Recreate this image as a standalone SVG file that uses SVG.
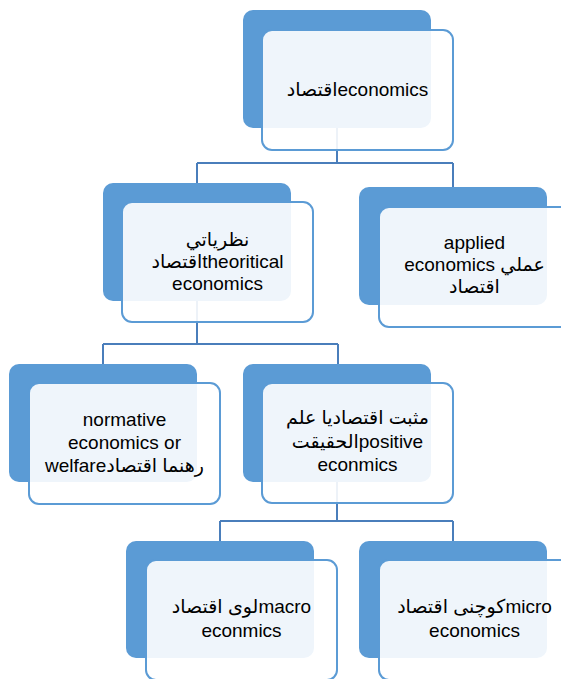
<svg xmlns="http://www.w3.org/2000/svg" width="561" height="679" viewBox="0 0 561 679">
<style>
.back{fill:#5b9bd5}
.front{fill:#ffffff;fill-opacity:0.9;stroke:#5b9bd5;stroke-width:2}
.conn{fill:none;stroke:#4a7ebb;stroke-width:2}
text{font-family:"Liberation Sans","DejaVu Sans","Noto Sans",sans-serif;font-size:19px;fill:#000;text-anchor:middle}
</style>
<rect width="561" height="679" fill="#ffffff"/>
<g id="connectors">
<path class="conn" d="M337,128 V163 M197,163 H453 M197,163 V183 M453,163 V187"/>
<path class="conn" d="M197,300 V344 M103,344 H338 M103,344 V364 M338,344 V364"/>
<path class="conn" d="M337,482 V521 M220,521 H453 M220,521 V541 M453,521 V541"/>
</g>
<g id="node-economics">
<rect class="back" x="243" y="10" width="188" height="118" rx="10"/>
<rect class="front" x="262" y="30" width="191" height="120" rx="10"/>
<text x="357.5" y="96">اقتصادeconomics</text>
</g>
<g id="node-theoretical">
<rect class="back" x="103" y="183" width="188" height="118" rx="10"/>
<rect class="front" x="122" y="202" width="191" height="120" rx="10"/>
<text x="217.5" y="246">نظرياتي</text>
<text x="217.5" y="268">اقتصادtheoritical</text>
<text x="217.5" y="290">economics</text>
</g>
<g id="node-applied">
<rect class="back" x="359" y="187" width="188" height="118" rx="10"/>
<rect class="front" x="379" y="207" width="191" height="120" rx="10"/>
<text x="474.5" y="249">applied</text>
<text x="474.5" y="271">economics عملي</text>
<text x="474.5" y="293">اقتصاد</text>
</g>
<g id="node-normative">
<rect class="back" x="9" y="364" width="188" height="118" rx="10"/>
<rect class="front" x="29" y="383" width="191" height="121" rx="10"/>
<text x="124.5" y="426">normative</text>
<text x="124.5" y="449">economics or</text>
<text x="124.5" y="472">welfareرهنما اقتصاد</text>
</g>
<g id="node-positive">
<rect class="back" x="243" y="364" width="188" height="118" rx="10"/>
<rect class="front" x="262" y="383" width="191" height="120" rx="10"/>
<text x="357.5" y="424">مثبت اقتصاديا علم</text>
<text x="357.5" y="448">الحقيقتpositive</text>
<text x="357.5" y="471">econmics</text>
</g>
<g id="node-macro">
<rect class="back" x="126" y="541" width="188" height="117" rx="10"/>
<rect class="front" x="146" y="560" width="191" height="120" rx="10"/>
<text x="241.5" y="613">لوی اقتصادmacro</text>
<text x="241.5" y="637">econmics</text>
</g>
<g id="node-micro">
<rect class="back" x="359" y="541" width="188" height="117" rx="10"/>
<rect class="front" x="379" y="560" width="191" height="120" rx="10"/>
<text x="474.5" y="613">کوچنی اقتصادmicro</text>
<text x="474.5" y="637">economics</text>
</g>
</svg>
